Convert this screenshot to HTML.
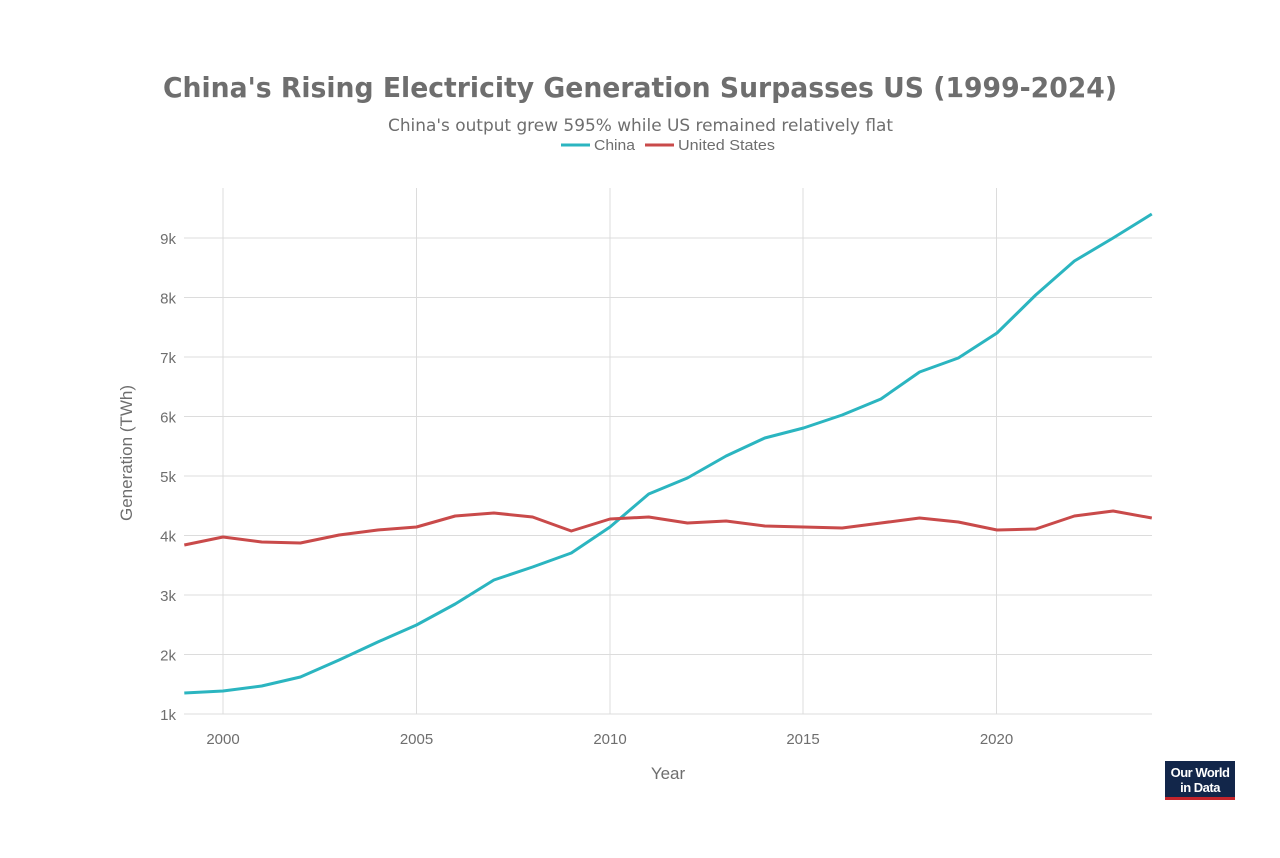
<!DOCTYPE html>
<html><head><meta charset="utf-8"><style>body{margin:0;background:#fff}</style></head><body>
<svg width="1280" height="853" xmlns="http://www.w3.org/2000/svg" font-family="Liberation Sans, DejaVu Sans, sans-serif">
<rect width="1280" height="853" fill="#fff"/>
<text x="163" y="97" textLength="954" lengthAdjust="spacingAndGlyphs" font-size="28" font-weight="bold" fill="#6e6e6e" font-family="DejaVu Sans, sans-serif">China's Rising Electricity Generation Surpasses US (1999-2024)</text>
<text x="388" y="131" textLength="505" lengthAdjust="spacingAndGlyphs" font-size="17" fill="#6e6e6e" font-family="DejaVu Sans, sans-serif">China's output grew 595% while US remained relatively flat</text>
<line x1="561" y1="145" x2="590" y2="145" stroke="#2bb5c0" stroke-width="3"/>
<text x="594" y="150" font-size="15" fill="#6e6e6e" textLength="41" lengthAdjust="spacingAndGlyphs">China</text>
<line x1="645" y1="145" x2="674" y2="145" stroke="#c94a4a" stroke-width="3"/>
<text x="678" y="150" font-size="15" fill="#6e6e6e" textLength="97" lengthAdjust="spacingAndGlyphs">United States</text>
<g stroke="#dcdcdc" stroke-width="1">
<line x1="223" y1="188" x2="223" y2="714"/><line x1="416.5" y1="188" x2="416.5" y2="714"/><line x1="610" y1="188" x2="610" y2="714"/><line x1="803" y1="188" x2="803" y2="714"/><line x1="996.5" y1="188" x2="996.5" y2="714"/>
<line x1="184" y1="238" x2="1152" y2="238"/><line x1="184" y1="297.5" x2="1152" y2="297.5"/><line x1="184" y1="357" x2="1152" y2="357"/><line x1="184" y1="416.5" x2="1152" y2="416.5"/><line x1="184" y1="476" x2="1152" y2="476"/><line x1="184" y1="535.5" x2="1152" y2="535.5"/><line x1="184" y1="595" x2="1152" y2="595"/><line x1="184" y1="654.5" x2="1152" y2="654.5"/><line x1="184" y1="714" x2="1152" y2="714"/>
</g>
<g font-size="15" fill="#6e6e6e" text-anchor="end">
<text x="176" y="244">9k</text><text x="176" y="303.5">8k</text><text x="176" y="363">7k</text><text x="176" y="422.5">6k</text><text x="176" y="482">5k</text><text x="176" y="541.5">4k</text><text x="176" y="601">3k</text><text x="176" y="660.5">2k</text><text x="176" y="720">1k</text>
</g>
<g font-size="15" fill="#6e6e6e" text-anchor="middle">
<text x="223" y="744">2000</text><text x="416.5" y="744">2005</text><text x="610" y="744">2010</text><text x="803" y="744">2015</text><text x="996.5" y="744">2020</text>
<text x="668" y="779" font-size="17">Year</text>
<text transform="translate(132,453) rotate(-90)" font-size="17">Generation (TWh)</text>
</g>
<polyline fill="none" stroke="#2bb5c0" stroke-width="3" stroke-linejoin="round" points="184.3,693 223,691 261.7,686 300.4,677 339.1,660 377.8,642 416.5,625 455.2,604 493.9,580 532.6,567 571.3,553 610,527 648.7,494 687.4,478 726.1,456 764.8,438 803.5,428 842.2,415 880.9,399 919.6,372 958.3,358 997,333 1035.7,295 1074.4,261 1113.1,238 1151.8,214"/>
<polyline fill="none" stroke="#c94a4a" stroke-width="3" stroke-linejoin="round" points="184.3,545 223,537 261.7,542 300.4,543 339.1,535 377.8,530 416.5,527 455.2,516 493.9,513 532.6,517 571.3,531 610,519 648.7,517 687.4,523 726.1,521 764.8,526 803.5,527 842.2,528 880.9,523 919.6,518 958.3,522 997,530 1035.7,529 1074.4,516 1113.1,511 1151.8,518"/>
<rect x="1165" y="761" width="70" height="36" fill="#12264a"/>
<rect x="1165" y="797" width="70" height="3" fill="#c4242b"/>
<text x="1200" y="777" text-anchor="middle" font-size="13" font-weight="bold" fill="#fff" letter-spacing="-0.5">Our World</text>
<text x="1200" y="792" text-anchor="middle" font-size="13" font-weight="bold" fill="#fff" letter-spacing="-0.5">in Data</text>
</svg>
</body></html>
